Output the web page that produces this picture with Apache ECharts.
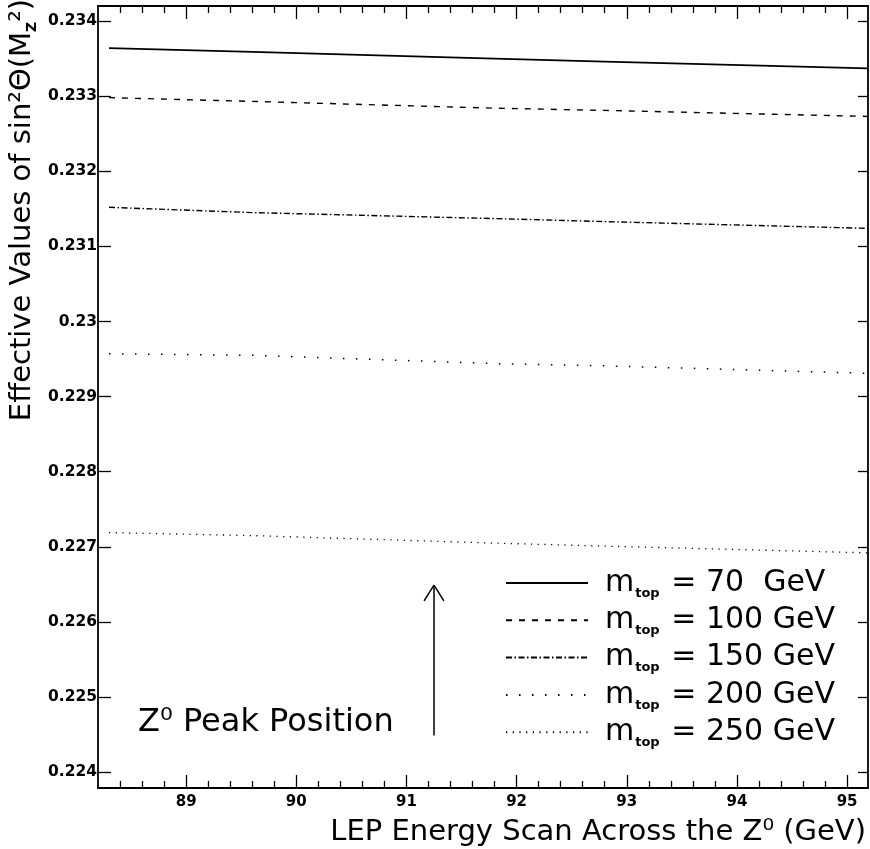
<!DOCTYPE html>
<html>
<head>
<meta charset="utf-8">
<title>Effective sin²Θ across the LEP energy scan</title>
<script src="https://cdn.jsdelivr.net/npm/echarts@6/dist/echarts.min.js"></script>
<style>
  html, body { margin: 0; padding: 0; background: #fff; }
  #chart { width: 870px; height: 849px; }
</style>
</head>
<body>
<div id="chart"></div>
<script>
// Centre-of-mass energies (GeV) at which the curves are sampled
const energyGeV = [88.3, 89.6, 91.8, 92.8, 95.19];

// Effective sin²Θ(Mz²) for each top-quark mass
const sin2Mtop70  = [0.23364, 0.23359, 0.23350, 0.23346, 0.23337];
const sin2Mtop100 = [0.23298, 0.23293, 0.23284, 0.23281, 0.23273];
const sin2Mtop150 = [0.23152, 0.23145, 0.23137, 0.23133, 0.23124];
const sin2Mtop200 = [0.22957, 0.22955, 0.22944, 0.22941, 0.22931];
const sin2Mtop250 = [0.22719, 0.22715, 0.22705, 0.22701, 0.22692];

const topMassesGeV = [70, 100, 150, 200, 250];

// Axis ranges and labelled ticks
const energyRange = [88.2, 95.19];
const energyTicks = [89, 90, 91, 92, 93, 94, 95];
const sin2Range = [0.22379, 0.2342];
const sin2Ticks = [0.224, 0.225, 0.226, 0.227, 0.228, 0.229, 0.230, 0.231, 0.232, 0.233, 0.234];

// Z0 peak marker (energy, and the span of the arrow in sin²Θ)
const zPeakEnergy = 91.25;
const zArrowBottom = 0.22449;
const zArrowTop = 0.22649;
const arrowHalfWidth = 0.09;   // GeV
const arrowHeadDepth = 0.00021;

// minor energy ticks every 0.2 GeV
const energyMinorTicks = [];
for (let i = 1; i * 0.2 + energyRange[0] < energyRange[1]; i++) {
  const v = Math.round((energyRange[0] + i * 0.2) * 10) / 10;
  if (Math.abs(v - Math.round(v)) > 1e-6) energyMinorTicks.push(v);
}

const FONT = 'DejaVu Sans';
const INK = '#000';

const sin2Series = [sin2Mtop70, sin2Mtop100, sin2Mtop150, sin2Mtop200, sin2Mtop250];
const dashStyles = [
  { type: 'solid', width: 1.8 },
  { type: [6, 7], width: 1.4 },
  { type: [6, 2.5, 1.5, 2.5], width: 1.4 },
  { type: [1.5, 11.5], width: 1.5 },
  { type: [1.2, 5.5], width: 1.3 }
];

const seriesNames = topMassesGeV.map(m => 'm_top = ' + m + ' GeV');

const series = sin2Series.map((vals, i) => ({
  name: seriesNames[i],
  type: 'line',
  xAxisIndex: 0,
  yAxisIndex: 0,
  symbol: 'none',
  showSymbol: false,
  silent: true,
  animation: false,
  data: energyGeV.map((e, j) => [e, vals[j]]),
  itemStyle: { color: INK },
  lineStyle: { color: INK, width: dashStyles[i].width, type: dashStyles[i].type }
}));

// Arrow marking the Z0 peak position
series[4].markLine = {
  silent: true,
  symbol: ['none', 'none'],
  animation: false,
  label: { show: false },
  lineStyle: { color: INK, width: 1.5, type: 'solid' },
  data: [
    [{ coord: [zPeakEnergy, zArrowBottom] }, { coord: [zPeakEnergy, zArrowTop] }],
    [{ coord: [zPeakEnergy, zArrowTop] }, { coord: [zPeakEnergy - arrowHalfWidth, zArrowTop - arrowHeadDepth] }],
    [{ coord: [zPeakEnergy, zArrowTop] }, { coord: [zPeakEnergy + arrowHalfWidth, zArrowTop - arrowHeadDepth] }]
  ]
};

function energyAxis(position, ticks, len, showLine, showLabels) {
  return {
    type: 'value',
    position: position,
    min: energyRange[0],
    max: energyRange[1],
    axisLine: { show: showLine, onZero: false, lineStyle: { color: INK, width: 1.8 } },
    axisTick: { show: true, inside: true, length: len, customValues: ticks, lineStyle: { color: INK, width: 1.3 } },
    axisLabel: {
      show: showLabels,
      customValues: ticks,
      margin: 7,
      color: INK,
      fontFamily: FONT,
      fontWeight: 'bold',
      fontSize: 15,
      formatter: v => String(Math.round(v))
    },
    splitLine: { show: false }
  };
}

function sin2Axis(position, len, showLabels) {
  return {
    type: 'value',
    position: position,
    min: sin2Range[0],
    max: sin2Range[1],
    axisLine: { show: true, onZero: false, lineStyle: { color: INK, width: 1.8 } },
    axisTick: { show: true, inside: true, length: len, customValues: sin2Ticks, lineStyle: { color: INK, width: 1.3 } },
    axisLabel: {
      show: showLabels,
      customValues: sin2Ticks,
      margin: 1,
      color: INK,
      fontFamily: FONT,
      fontWeight: 'bold',
      fontSize: 15.5,
      formatter: v => String(parseFloat(v.toFixed(3)))
    },
    splitLine: { show: false }
  };
}

const chart = echarts.init(document.getElementById('chart'), null, { renderer: 'canvas' });

chart.setOption({
  backgroundColor: '#fff',
  animation: false,
  grid: { left: 98, right: 2, top: 6, bottom: 61, containLabel: false },
  xAxis: [
    energyAxis('bottom', energyTicks, 13, true, true),
    energyAxis('bottom', energyMinorTicks, 7, false, false),
    energyAxis('top', energyTicks, 13, true, false),
    energyAxis('top', energyMinorTicks, 7, false, false)
  ],
  yAxis: [
    sin2Axis('left', 13, true),
    sin2Axis('right', 10, false)
  ],
  legend: {
    orient: 'vertical',
    left: 505,
    top: 568,
    padding: 0,
    itemWidth: 82,
    itemHeight: 12,
    itemGap: 5.3,
    selectedMode: false,
    data: seriesNames,
    itemStyle: { opacity: 0 },
    textStyle: {
      color: INK,
      fontFamily: FONT,
      fontSize: 30,
      rich: {
        m: { fontFamily: FONT, fontSize: 30, color: INK, padding: [0, 0, 0, 12], lineHeight: 34 },
        sub: { fontFamily: FONT, fontSize: 13, fontWeight: 'bold', color: INK, verticalAlign: 'bottom', lineHeight: 14, padding: [0, 2, 0, 1] },
        rest: { fontFamily: FONT, fontSize: 30, color: INK, lineHeight: 34 }
      }
    },
    formatter: name => {
      const mass = topMassesGeV[seriesNames.indexOf(name)];
      const gap = mass < 100 ? '  ' : ' ';
      return '{m|m}{sub|top}{rest| = ' + mass + gap + 'GeV}';
    }
  },
  graphic: [
    {
      type: 'text',
      x: 138,
      y: 723,
      silent: true,
      style: {
        text: 'Z⁰ Peak Position',
        fontFamily: FONT,
        fontSize: 32,
        fill: INK,
        verticalAlign: 'middle',
        align: 'left'
      }
    },
    {
      type: 'text',
      x: 866,
      y: 832,
      silent: true,
      style: {
        text: 'LEP Energy Scan Across the Z⁰ (GeV)',
        fontFamily: FONT,
        fontSize: 29,
        fill: INK,
        verticalAlign: 'middle',
        align: 'right'
      }
    },
    {
      type: 'text',
      x: 22,
      y: 210,
      rotation: Math.PI / 2,
      silent: true,
      style: {
        text: '{t|Effective Values of sin²Θ(M}{s|Z}{t|²)}',
        fontFamily: FONT,
        fontSize: 29,
        fill: INK,
        verticalAlign: 'middle',
        align: 'center',
        rich: {
          t: { fontFamily: FONT, fontSize: 29, fill: INK, lineHeight: 34 },
          s: { fontFamily: FONT, fontSize: 14, fontWeight: 'bold', fill: INK, verticalAlign: 'bottom', lineHeight: 16 }
        }
      }
    }
  ],
  series: series
});
</script>
</body>
</html>
